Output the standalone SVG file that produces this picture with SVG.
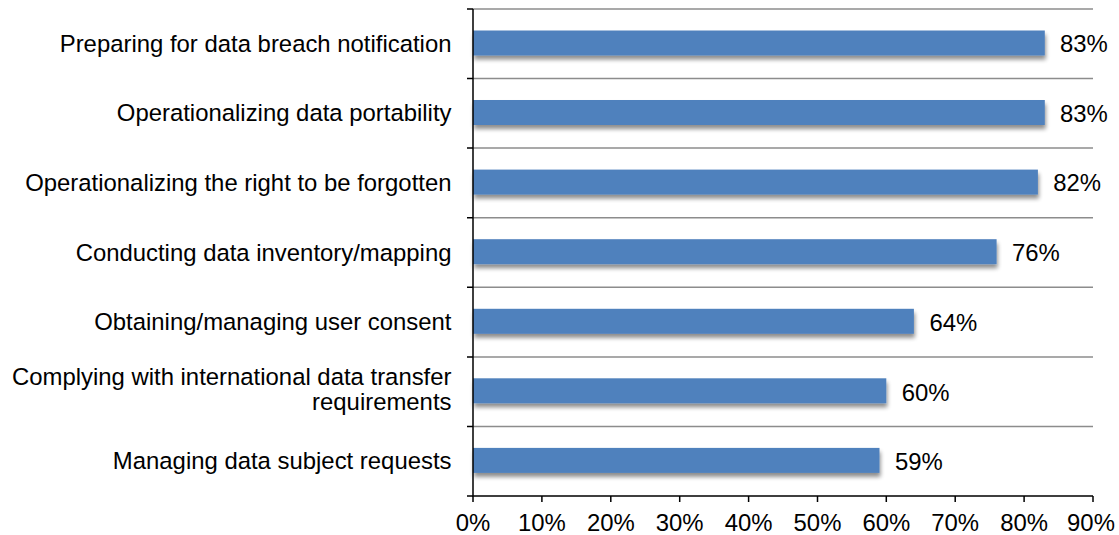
<svg xmlns="http://www.w3.org/2000/svg" width="1119" height="535" viewBox="0 0 1119 535">
<defs>
<style>
text{font-family:"Liberation Sans",Arial,sans-serif;font-size:23.9px;fill:#000}
.cat{text-anchor:end}
.tick{text-anchor:middle}
.grid{stroke:#8c8c8c;stroke-width:1.5}
.axis{stroke:#000;stroke-width:1.5;fill:none}
.bar{fill:#4F81BD}
</style>
<filter id="sh" x="-5%" y="-30%" width="110%" height="180%">
<feGaussianBlur in="SourceAlpha" stdDeviation="2"/>
<feOffset dx="1" dy="4"/>
<feComponentTransfer><feFuncA type="linear" slope="0.45"/></feComponentTransfer>
<feMerge><feMergeNode/><feMergeNode in="SourceGraphic"/></feMerge>
</filter>
</defs>
<rect width="1119" height="535" fill="#fff"/>
<g id="gridlines">
<line class="grid" x1="473" y1="9" x2="1093" y2="9"/>
<line class="grid" x1="473" y1="78.6" x2="1093" y2="78.6"/>
<line class="grid" x1="473" y1="148.1" x2="1093" y2="148.1"/>
<line class="grid" x1="473" y1="217.7" x2="1093" y2="217.7"/>
<line class="grid" x1="473" y1="287.3" x2="1093" y2="287.3"/>
<line class="grid" x1="473" y1="356.9" x2="1093" y2="356.9"/>
<line class="grid" x1="473" y1="426.4" x2="1093" y2="426.4"/>
</g>
<g id="bars" filter="url(#sh)">
<rect id="bar1" class="bar" x="473" y="30.5" width="571.8" height="25"/>
<rect id="bar2" class="bar" x="473" y="100" width="571.8" height="25"/>
<rect id="bar3" class="bar" x="473" y="169.6" width="564.9" height="25"/>
<rect id="bar4" class="bar" x="473" y="239.2" width="523.6" height="25"/>
<rect id="bar5" class="bar" x="473" y="308.8" width="440.9" height="25"/>
<rect id="bar6" class="bar" x="473" y="378.3" width="413.3" height="25"/>
<rect id="bar7" class="bar" x="473" y="447.9" width="406.5" height="25"/>
</g>
<g id="axes">
<path class="axis" d="M473,9 V496 H1093"/>
<path class="axis" d="M467,9 H473 M467,78.6 H473 M467,148.1 H473 M467,217.7 H473 M467,287.3 H473 M467,356.9 H473 M467,426.4 H473 M467,496 H473"/>
<path class="axis" d="M473,496 V502 M541.9,496 V502 M610.8,496 V502 M679.7,496 V502 M748.6,496 V502 M817.5,496 V502 M886.3,496 V502 M955.2,496 V502 M1024.1,496 V502 M1093,496 V502"/>
</g>
<g id="category-labels">
<text class="cat" x="451.5" y="51.8">Preparing for data breach notification</text>
<text class="cat" x="451.5" y="121.4">Operationalizing data portability</text>
<text class="cat" x="451.5" y="191">Operationalizing the right to be forgotten</text>
<text class="cat" x="451.5" y="260.5">Conducting data inventory/mapping</text>
<text class="cat" x="451.5" y="330.1">Obtaining/managing user consent</text>
<text class="cat" x="451.5" y="385">Complying with international data transfer</text>
<text class="cat" x="451.5" y="409.5">requirements</text>
<text class="cat" x="451.5" y="469.3">Managing data subject requests</text>
</g>
<g id="value-labels">
<text x="1060" y="52.2">83%</text>
<text x="1060" y="121.8">83%</text>
<text x="1053.3" y="191.4">82%</text>
<text x="1012" y="261">76%</text>
<text x="929.4" y="330.6">64%</text>
<text x="901.7" y="400.5">60%</text>
<text x="895" y="469.7">59%</text>
</g>
<g id="x-axis-labels">
<text class="tick" x="473" y="530.7">0%</text>
<text class="tick" x="541.9" y="530.7">10%</text>
<text class="tick" x="610.8" y="530.7">20%</text>
<text class="tick" x="679.7" y="530.7">30%</text>
<text class="tick" x="748.6" y="530.7">40%</text>
<text class="tick" x="817.5" y="530.7">50%</text>
<text class="tick" x="886.3" y="530.7">60%</text>
<text class="tick" x="955.2" y="530.7">70%</text>
<text class="tick" x="1024.1" y="530.7">80%</text>
<text class="tick" x="1091" y="530.7">90%</text>
</g>
</svg>
